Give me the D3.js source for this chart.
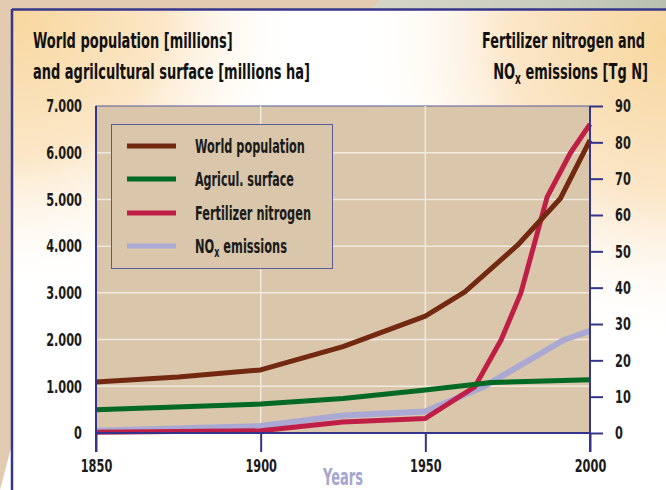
<!DOCTYPE html>
<html><head><meta charset="utf-8">
<script src="https://cdn.jsdelivr.net/npm/d3@7"></script>
<style>html,body{margin:0;padding:0;background:#e2cbb0;}svg{display:block;}
text{font-family:"DejaVu Sans",sans-serif;font-weight:bold;}</style>
</head><body><div id="chart"></div>
<script>
const xTicks = [1850, 1900, 1950, 2000];
const leftTicks = [0, 1000, 2000, 3000, 4000, 5000, 6000, 7000];
const leftTickLabels = ["0", "1.000", "2.000", "3.000", "4.000", "5.000", "6.000", "7.000"];
const rightTicks = [0, 10, 20, 30, 40, 50, 60, 70, 80, 90];

const popYears = [1850, 1875, 1900, 1925, 1950, 1962, 1978, 1991, 2000];
const popValues = [1090, 1200, 1350, 1850, 2500, 3020, 4020, 5020, 6270];
const agriYears = [1850, 1900, 1925, 1950, 1970, 2000];
const agriValues = [500, 620, 740, 920, 1080, 1140];
const fertYears = [1850, 1900, 1925, 1950, 1965, 1973, 1979, 1987, 1994, 2000];
const fertValues = [0.2, 0.6, 3, 4, 12.7, 25.6, 38.5, 65, 77, 85];
const noxYears = [1850, 1900, 1925, 1950, 1968, 1992, 2000];
const noxValues = [0.6, 1.9, 4.8, 5.9, 12.9, 25.6, 28.1];

const seriesNames = ["World population", "Agricul. surface", "Fertilizer nitrogen", "NOx emissions"];
const seriesColors = ["#72290f", "#006a25", "#bf1f46", "#a9a9d3"];
const legendWidths = [110, 99, 116, 92];

const W = 666, H = 490;
const svg = d3.select("#chart").append("svg").attr("width", W).attr("height", H);
const defs = svg.append("defs");

// condensed text: a group translated to (x,y) and squeezed horizontally
function ctext(parent, x, y, width, size, anchor, fill, build) {
  const g = parent.append("g");
  const t = g.append("text").attr("font-size", size).attr("fill", fill).attr("text-anchor", anchor);
  build(t);
  const w = t.node().getComputedTextLength();
  const f = width / w;
  g.attr("transform", `translate(${x},${y}) scale(${f},1)`);
  return t;
}
function squeezeTicks(sel, factor) {
  sel.each(function () {
    const s = d3.select(this);
    const x = +s.attr("x") || 0;
    s.attr("x", x / factor).attr("transform", `scale(${factor},1)`);
  });
}
const sub = (label, small, rest, dy) => t => {
  t.append("tspan").text(label);
  t.append("tspan").text(small).attr("font-size", small === "x" ? null : null).attr("dy", dy).style("font-size", "70%");
  t.append("tspan").text(rest).attr("dy", -dy);
};

const g1 = defs.append("radialGradient").attr("id", "gl").attr("gradientUnits", "userSpaceOnUse")
  .attr("cx", 15).attr("cy", 10).attr("r", 290);
g1.append("stop").attr("offset", 0).attr("stop-color", "#f8d79e");
g1.append("stop").attr("offset", 0.5).attr("stop-color", "#fbe6c6");
g1.append("stop").attr("offset", 1).attr("stop-color", "#ffffff").attr("stop-opacity", 0);
const g2 = defs.append("radialGradient").attr("id", "gr").attr("gradientUnits", "userSpaceOnUse")
  .attr("cx", 666).attr("cy", 40).attr("r", 310);
g2.append("stop").attr("offset", 0).attr("stop-color", "#f8d79e");
g2.append("stop").attr("offset", 0.5).attr("stop-color", "#fbe6c8");
g2.append("stop").attr("offset", 1).attr("stop-color", "#ffffff").attr("stop-opacity", 0);
const g3 = defs.append("linearGradient").attr("id", "gt").attr("x1", 0).attr("x2", 1);
g3.append("stop").attr("offset", 0).attr("stop-color", "#d7d6c6");
g3.append("stop").attr("offset", 0.6).attr("stop-color", "#c9cdbd");
g3.append("stop").attr("offset", 1).attr("stop-color", "#b9c0ae");

// outer background
svg.append("rect").attr("width", W).attr("height", H).attr("fill", "#e2cbb0");
svg.append("polygon").attr("points", "380,0 666,0 666,9 370,9").attr("fill", "url(#gt)");
svg.append("polygon").attr("points", "11,448 11,490 0,490").attr("fill", "#ffffff");
// card
svg.append("rect").attr("x", 12).attr("y", 9).attr("width", W).attr("height", H).attr("fill", "#ffffff");
svg.append("rect").attr("x", 12).attr("y", 9).attr("width", W).attr("height", H).attr("fill", "url(#gl)");
svg.append("rect").attr("x", 12).attr("y", 9).attr("width", W).attr("height", H).attr("fill", "url(#gr)");
svg.append("line").attr("x1", 12).attr("x2", W).attr("y1", 9.5).attr("y2", 9.5).attr("stroke", "#36368a").attr("stroke-width", 2.5);
svg.append("line").attr("x1", 12).attr("x2", 12).attr("y1", 9).attr("y2", H).attr("stroke", "#36368a").attr("stroke-width", 2.5);

const x0 = 96, x1 = 590, yTop = 106, yBot = 433;
const x = d3.scaleLinear().domain([1850, 2000]).range([x0, x1]);
const yL = d3.scaleLinear().domain([0, 7000]).range([yBot, yTop]);
const yR = d3.scaleLinear().domain([0, 90]).range([yBot, yTop]);

// plot bg
svg.append("rect").attr("x", x0).attr("y", yTop).attr("width", x1 - x0).attr("height", yBot - yTop)
  .attr("fill", "#d9c6ab").attr("stroke", "#5a5a98").attr("stroke-width", 1);

// grid
const grid = svg.append("g");
grid.selectAll("line.h").data(leftTicks.filter(d => d > 0 && d < 7000)).enter().append("line")
  .attr("x1", x0).attr("x2", x1).attr("y1", d => yL(d)).attr("y2", d => yL(d))
  .attr("stroke", "#f1e9df").attr("stroke-width", 1.5);
grid.selectAll("line.v").data(xTicks.filter(d => d > 1850 && d < 2000)).enter().append("line")
  .attr("x1", d => x(d)).attr("x2", d => x(d)).attr("y1", yTop).attr("y2", yBot)
  .attr("stroke", "#f1e9df").attr("stroke-width", 1.5);

// legend box
const lg = svg.append("g");
lg.append("rect").attr("x", 111.5).attr("y", 124.5).attr("width", 221).attr("height", 144)
  .attr("fill", "#d9c6ab").attr("stroke", "#5a5a98").attr("stroke-width", 1);
const legY = [146, 179, 213, 246];
seriesNames.forEach((n, i) => {
  lg.append("line").attr("x1", 127).attr("x2", 176).attr("y1", legY[i]).attr("y2", legY[i])
    .attr("stroke", seriesColors[i]).attr("stroke-width", 5);
  const build = n === "NOx emissions" ? sub("NO", "x", " emissions", 4) : t => t.text(n);
  ctext(lg, 195, legY[i] + 7, legendWidths[i], 20, "start", "#1a1a1a", build);
});

// lines
const mk = (xs, vs, ys) => d3.line().x((d, i) => x(xs[i])).y((d, i) => ys(vs[i]))(vs);
const lines = svg.append("g").attr("fill", "none").attr("stroke-width", 5).attr("stroke-linejoin", "round");
lines.append("path").attr("d", mk(noxYears, noxValues, yR)).attr("stroke", seriesColors[3]).attr("stroke-width", 6);
lines.append("path").attr("d", mk(fertYears, fertValues, yR)).attr("stroke", seriesColors[2]);
lines.append("path").attr("d", mk(agriYears, agriValues, yL)).attr("stroke", seriesColors[1]);
lines.append("path").attr("d", mk(popYears, popValues, yL)).attr("stroke", seriesColors[0]);

// axes
const axisColor = "#34348a";
const tickFactor = 0.63;
const bottom = svg.append("g").attr("transform", `translate(0,${yBot})`)
  .call(d3.axisBottom(x).tickValues(xTicks).tickFormat(d3.format("d")).tickSize(19).tickPadding(7));
bottom.select(".domain").attr("stroke", axisColor).attr("stroke-width", 2).attr("d", `M${x0},0H${x1}`);
bottom.selectAll(".tick line").attr("stroke", axisColor).attr("stroke-width", 2);
bottom.selectAll(".tick text").attr("font-size", 18).attr("fill", "#1a1a1a").attr("font-family", null).call(squeezeTicks, tickFactor);

const left = svg.append("g").attr("transform", `translate(${x0},0)`)
  .call(d3.axisLeft(yL).tickValues(leftTicks).tickFormat((d, i) => leftTickLabels[i]).tickSize(0).tickPadding(14));
left.select(".domain").attr("stroke", axisColor).attr("stroke-width", 2).attr("d", `M0,${yTop}V${yBot + 19}`);
left.selectAll(".tick text").attr("font-size", 18).attr("fill", "#1a1a1a").attr("font-family", null).call(squeezeTicks, tickFactor);

const right = svg.append("g").attr("transform", `translate(${x1},0)`)
  .call(d3.axisRight(yR).tickValues(rightTicks).tickSize(13).tickPadding(12));
right.select(".domain").attr("stroke", axisColor).attr("stroke-width", 2).attr("d", `M0,${yTop}V${yBot + 19}`);
right.selectAll(".tick line").attr("stroke", axisColor).attr("stroke-width", 2);
right.selectAll(".tick text").attr("font-size", 18).attr("fill", "#1a1a1a").attr("font-family", null).call(squeezeTicks, tickFactor);

ctext(svg, 343, 485, 40, 23, "middle", "#a6a6d0", t => t.text("Years"));

// titles
ctext(svg, 33, 48, 200, 22, "start", "#111", t => t.text("World population [millions]"));
ctext(svg, 33, 79, 277, 22, "start", "#111", t => t.text("and agrilcultural surface [millions ha]"));
ctext(svg, 645, 48, 163, 22, "end", "#111", t => t.text("Fertilizer nitrogen and"));
ctext(svg, 648, 79, 155, 22, "end", "#111", sub("NO", "x", " emissions [Tg N]", 5));
</script></body></html>
